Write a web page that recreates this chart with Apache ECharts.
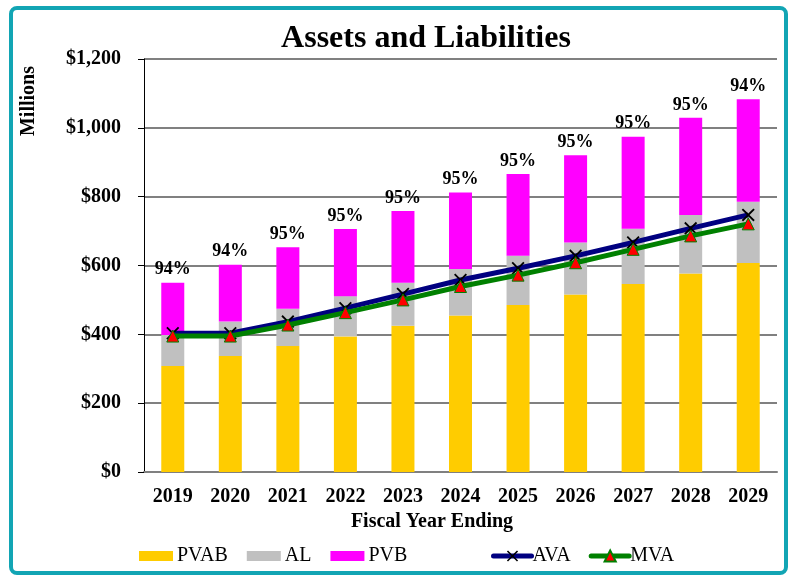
<!DOCTYPE html>
<html>
<head>
<meta charset="utf-8">
<script src="https://cdn.jsdelivr.net/npm/echarts@6/dist/echarts.min.js"></script>
<style>
  html, body { margin: 0; padding: 0; background: #fff; }
  #main { width: 791px; height: 577px; }
</style>
</head>
<body>
<div id="main"></div>
<script>
// 数据
var years = ['2019', '2020', '2021', '2022', '2023', '2024', '2025', '2026', '2027', '2028', '2029'];
var pvab = [308, 337, 366, 394, 425, 455, 485, 516, 546, 577, 607];
var al = [90, 100, 108, 117, 125, 135, 143, 151, 161, 170, 178];
var pvb = [152, 165, 179, 195, 208, 222, 238, 253, 267, 282, 298];
var ava = [403, 403, 437, 476, 517, 558, 592, 628, 667, 708, 747];
var mva = [395, 395, 427, 463, 500, 539, 572, 608, 647, 686, 721];
var pctLabels = ['94%', '94%', '95%', '95%', '95%', '95%', '95%', '95%', '95%', '95%', '94%'];

var serif = '"Liberation Serif", "DejaVu Serif", serif';
var xMark = 'path://M0,1L1,0L5,4L9,0L10,1L6,5L10,9L9,10L5,6L1,10L0,9L4,5Z';

var myChart = echarts.init(document.getElementById('main'));

var option = {
    backgroundColor: '#fff',
    animation: false,
    textStyle: { fontFamily: serif },
    grid: { left: 144, right: 14, top: 59, bottom: 105, containLabel: false },
    graphic: [
        {
            type: 'rect',
            shape: { x: 11, y: 8, width: 775, height: 565, r: 6 },
            style: { fill: 'none', stroke: '#12a5b4', lineWidth: 4 },
            z: -1
        },
        {
            type: 'text', x: 426, y: 39,
            style: { text: 'Assets and Liabilities', font: 'bold 32px ' + serif, fill: '#000', align: 'center', verticalAlign: 'middle' }
        },
        {
            type: 'text', x: 29, y: 101, rotation: Math.PI / 2,
            style: { text: 'Millions', font: 'bold 20px ' + serif, fill: '#000', align: 'center', verticalAlign: 'middle' }
        },
        {
            type: 'text', x: 432, y: 522,
            style: { text: 'Fiscal Year Ending', font: 'bold 20px ' + serif, fill: '#000', align: 'center', verticalAlign: 'middle' }
        }
    ],
    legend: [
        {
            left: 134, top: 541, itemWidth: 34, itemHeight: 10, itemGap: 19, icon: 'rect',
            textStyle: { fontFamily: serif, fontSize: 20, color: '#000', padding: [0, 0, 0, -1] },
            data: ['PVAB', 'AL', 'PVB']
        },
        {
            left: 486, top: 541, itemWidth: 38, itemHeight: 14, itemGap: 18,
            lineStyle: { width: 5, cap: 'round' },
            textStyle: { fontFamily: serif, fontSize: 20, color: '#000', padding: [0, 0, 0, -4] },
            data: ['AVA', 'MVA']
        }
    ],
    xAxis: {
        type: 'category',
        data: years,
        axisLine: { lineStyle: { color: '#808080', width: 2 } },
        axisTick: { show: false },
        axisLabel: { fontFamily: serif, fontSize: 20, fontWeight: 'bold', color: '#000', margin: 15 }
    },
    yAxis: {
        type: 'value',
        min: 0, max: 1200, interval: 200,
        axisLine: { show: true, lineStyle: { color: '#000', width: 1 } },
        axisTick: { show: true, length: 6, lineStyle: { color: '#000' } },
        splitLine: { lineStyle: { color: '#808080', width: 2 } },
        axisLabel: {
            fontFamily: serif, fontSize: 20, fontWeight: 'bold', color: '#000', margin: 23,
            formatter: function (v) { return '$' + v.toLocaleString('en-US'); }
        }
    },
    series: [
        {
            name: 'PVAB', type: 'bar', stack: 'total', data: pvab, barWidth: 23,
            itemStyle: { color: '#ffcc00' }
        },
        {
            name: 'AL', type: 'bar', stack: 'total', data: al, barWidth: 23,
            itemStyle: { color: '#c0c0c0' }
        },
        {
            name: 'PVB', type: 'bar', stack: 'total', data: pvb, barWidth: 23,
            itemStyle: { color: '#ff00ff' },
            label: {
                show: true, position: 'top', distance: 4,
                fontFamily: serif, fontSize: 18, fontWeight: 'bold', color: '#000',
                formatter: function (p) { return pctLabels[p.dataIndex]; }
            }
        },
        {
            name: 'AVA', type: 'line', data: ava, z: 5,
            lineStyle: { color: '#000080', width: 5 },
            symbol: xMark, symbolSize: 13,
            itemStyle: { color: '#000', borderWidth: 0 }
        },
        {
            name: 'MVA', type: 'line', data: mva, z: 6,
            lineStyle: { color: '#008000', width: 5 },
            symbol: 'triangle', symbolSize: 12,
            itemStyle: { color: '#ff0000', borderColor: '#008000', borderWidth: 1 }
        }
    ]
};

myChart.setOption(option);
</script>
</body>
</html>
